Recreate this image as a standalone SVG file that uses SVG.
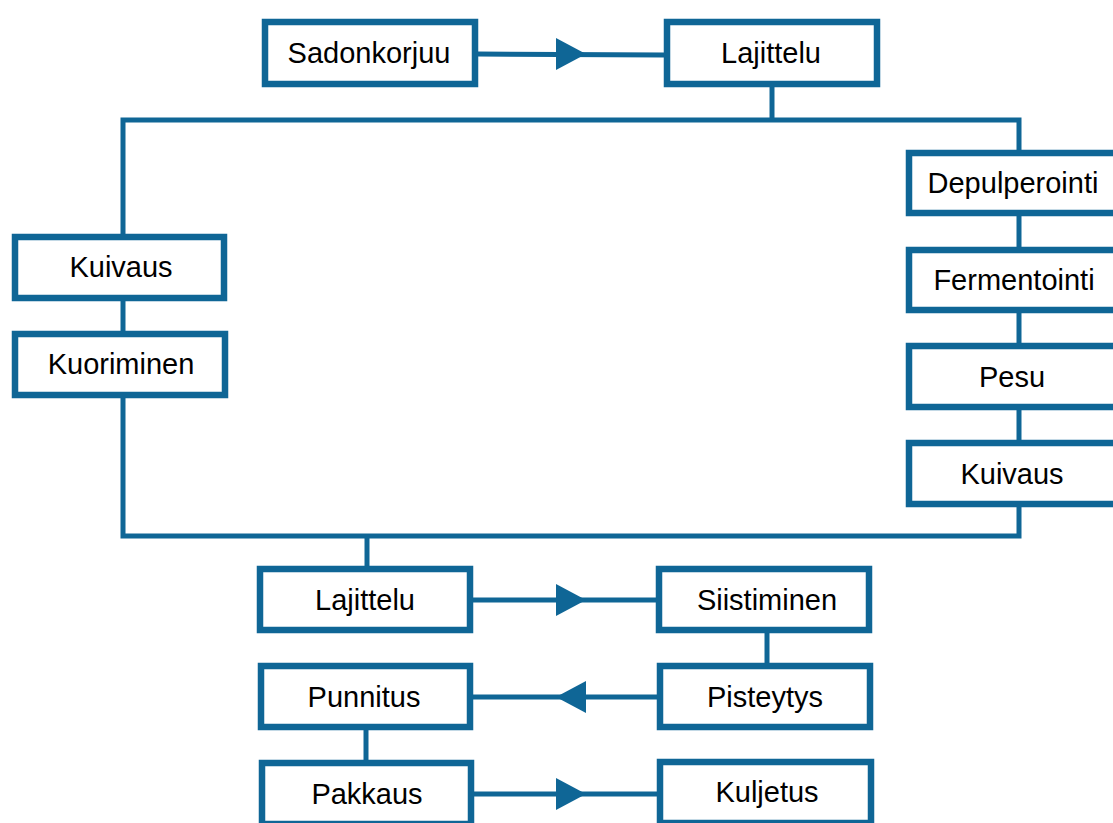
<svg xmlns="http://www.w3.org/2000/svg" width="1113" height="823" viewBox="0 0 1113 823">
<style>
.box{fill:#fff;stroke:#0f6696;stroke-width:6.5}
.ln{fill:none;stroke:#0f6696;stroke-width:5}
.ah{fill:#0f6696}
text{font-family:"Liberation Sans",Arial,sans-serif;font-size:29px;fill:#000;text-anchor:middle;dominant-baseline:central}
</style>
<rect width="1113" height="823" fill="#fff"/>
<g id="connectors">
<line class="ln" x1="478" y1="54" x2="664" y2="55"/>
<polygon class="ah" points="556,38 586,54 556,70"/>
<polyline class="ln" points="772,87 772,120"/>
<polyline class="ln" points="123,234 123,120 1019,120 1019,150"/>
<line class="ln" x1="123" y1="300" x2="123" y2="331"/>
<polyline class="ln" points="123,398 123,536 1019,536 1019,507"/>
<line class="ln" x1="1019" y1="216" x2="1019" y2="247"/>
<line class="ln" x1="1019" y1="313" x2="1019" y2="343"/>
<line class="ln" x1="1019" y1="410" x2="1019" y2="440"/>
<line class="ln" x1="367" y1="536" x2="367" y2="566"/>
<line class="ln" x1="473" y1="600" x2="656" y2="600"/>
<polygon class="ah" points="556,584 586,600 556,616"/>
<line class="ln" x1="767" y1="633" x2="767" y2="663"/>
<line class="ln" x1="473" y1="697" x2="657" y2="697"/>
<polygon class="ah" points="586,681 556,697 586,713"/>
<line class="ln" x1="366" y1="730" x2="366" y2="760"/>
<line class="ln" x1="474" y1="794" x2="657" y2="794"/>
<polygon class="ah" points="556,778 586,794 556,810"/>
</g>
<g id="n-sadonkorjuu"><rect class="box" x="265" y="22" width="210" height="62"/><text x="369" y="53">Sadonkorjuu</text></g>
<g id="n-lajittelu1"><rect class="box" x="667" y="22" width="210" height="62"/><text x="771" y="53">Lajittelu</text></g>
<g id="n-kuivaus1"><rect class="box" x="15" y="237" width="209" height="61"/><text x="121" y="267">Kuivaus</text></g>
<g id="n-kuoriminen"><rect class="box" x="15" y="334" width="210" height="61"/><text x="121" y="364">Kuoriminen</text></g>
<g id="n-depulperointi"><rect class="box" x="909" y="153" width="212" height="60"/><text x="1013" y="183">Depulperointi</text></g>
<g id="n-fermentointi"><rect class="box" x="909" y="250" width="212" height="60"/><text x="1014" y="280">Fermentointi</text></g>
<g id="n-pesu"><rect class="box" x="909" y="346" width="212" height="61"/><text x="1012" y="377">Pesu</text></g>
<g id="n-kuivaus2"><rect class="box" x="909" y="443" width="212" height="61"/><text x="1012" y="474">Kuivaus</text></g>
<g id="n-lajittelu2"><rect class="box" x="260" y="569" width="210" height="61"/><text x="365" y="600">Lajittelu</text></g>
<g id="n-siistiminen"><rect class="box" x="659" y="569" width="210" height="61"/><text x="767" y="600">Siistiminen</text></g>
<g id="n-punnitus"><rect class="box" x="261" y="666" width="209" height="61"/><text x="364" y="697">Punnitus</text></g>
<g id="n-pisteytys"><rect class="box" x="660" y="666" width="210" height="61"/><text x="765" y="697">Pisteytys</text></g>
<g id="n-pakkaus"><rect class="box" x="262" y="763" width="209" height="61"/><text x="367" y="794">Pakkaus</text></g>
<g id="n-kuljetus"><rect class="box" x="660" y="762" width="211" height="61"/><text x="767" y="792">Kuljetus</text></g>
</svg>
